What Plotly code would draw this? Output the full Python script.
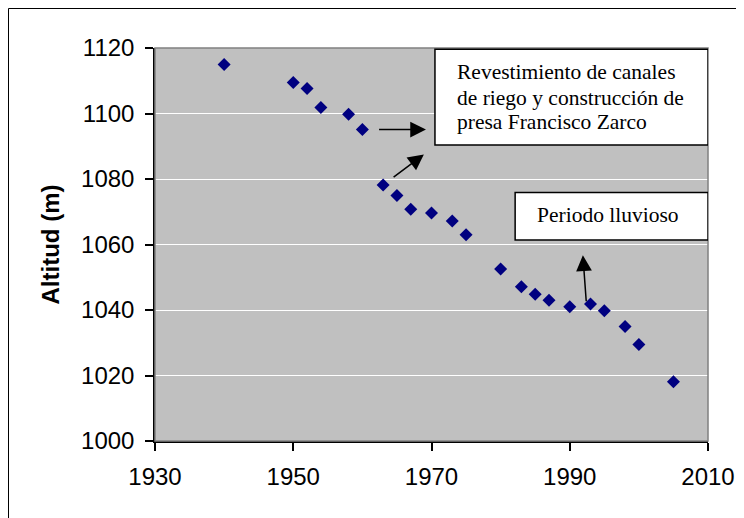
import plotly.graph_objects as go

years = [1940, 1950, 1952, 1954, 1958, 1960, 1963, 1965, 1967, 1970, 1973, 1975,
         1980, 1983, 1985, 1987, 1990, 1993, 1995, 1998, 2000, 2005]
altitud = [1115.0, 1109.5, 1107.6, 1101.8, 1099.8, 1095.1, 1078.2, 1075.0, 1070.8, 1069.6,
           1067.2, 1063.0, 1052.5, 1047.1, 1044.8, 1043.0, 1041.0, 1041.8, 1039.8, 1035.0,
           1029.5, 1018.1]

x_ticks = [1930, 1950, 1970, 1990, 2010]
y_ticks = [1000, 1020, 1040, 1060, 1080, 1100, 1120]

box1_lines = ["Revestimiento de canales", "de riego y construcción de", "presa Francisco Zarco"]
box2_text = "Periodo lluvioso"

fig = go.Figure()
fig.add_trace(go.Scatter(
    x=years, y=altitud, mode="markers",
    marker=dict(symbol="diamond", size=10, color="#000080", line=dict(width=0)),
    showlegend=False, hoverinfo="x+y"))

serif = "Liberation Serif, Times New Roman, serif"
sans = "Liberation Sans, Arial, sans-serif"

L, T, PW, PH = 147, 40, 553, 393
W, H = 744, 518

def px_x(fx):
    return (fx - L) / PW

def px_y(fy):
    return (T + PH - fy) / PH

shapes = [
    # outer chart frame
    dict(type="rect", xref="paper", yref="paper", x0=px_x(0.5), x1=px_x(W + 20),
         y0=px_y(H + 20), y1=px_y(0.5),
         line=dict(color="#000000", width=1), fillcolor="rgba(0,0,0,0)", layer="below"),
    # plot area border
    dict(type="rect", xref="paper", yref="paper", x0=0, x1=1, y0=0, y1=1,
         line=dict(color="#808080", width=1.5), fillcolor="rgba(0,0,0,0)", layer="above"),
    # text boxes
    dict(type="rect", xref="x", yref="y", x0=1970.5, x1=2010, y0=1090.4, y1=1119.6,
         line=dict(color="#000000", width=1.5), fillcolor="#FFFFFF", layer="above"),
    dict(type="rect", xref="x", yref="y", x0=1982.1, x1=2010, y0=1061.4, y1=1075.9,
         line=dict(color="#000000", width=1.5), fillcolor="#FFFFFF", layer="above"),
]

annotations = []
for line, yy in zip(box1_lines, [1112.6, 1104.8, 1097.5]):
    annotations.append(dict(x=1973.4, y=yy, xref="x", yref="y", text=line, showarrow=False,
                            xanchor="left", yanchor="middle",
                            font=dict(family=serif, size=21.5, color="#000000")))
annotations.append(dict(x=1985.0, y=1069.0, xref="x", yref="y", text=box2_text, showarrow=False,
                        xanchor="left", yanchor="middle",
                        font=dict(family=serif, size=21.5, color="#000000")))

arrows = [((1962.2, 1095.1), (1969.2, 1095.1)),
          ((1964.3, 1080.2), (1968.9, 1087.5)),
          ((1992.4, 1042.2), (1991.9, 1056.7))]
for (tx, ty), (hx, hy) in arrows:
    annotations.append(dict(x=hx, y=hy, ax=tx, ay=ty, xref="x", yref="y", axref="x", ayref="y",
                            text="", showarrow=True, arrowhead=2, arrowsize=2.1, arrowwidth=1.5,
                            arrowcolor="#000000", standoff=0, startstandoff=0))

fig.update_layout(
    width=W, height=H,
    margin=dict(l=L, r=W - L - PW, t=T, b=H - T - PH),
    paper_bgcolor="#FFFFFF", plot_bgcolor="#C0C0C0",
    shapes=shapes, annotations=annotations,
    font=dict(family=sans, size=24, color="#000000"),
    xaxis=dict(range=[1930, 2010], tickvals=x_ticks, ticktext=[str(v) for v in x_ticks],
               showgrid=False, zeroline=False, showline=True, linecolor="#000000", linewidth=1.5,
               ticks="outside", ticklen=8, tickcolor="#000000", tickwidth=1.5,
               ticklabelstandoff=5, tickfont=dict(family=sans, size=24)),
    yaxis=dict(range=[1000, 1120], tickvals=y_ticks, ticktext=[str(v) for v in y_ticks],
               showgrid=True, gridcolor="#FFFFFF", gridwidth=1, zeroline=False,
               showline=True, linecolor="#000000", linewidth=1.5,
               ticks="outside", ticklen=8, tickcolor="#000000", tickwidth=1.5,
               ticklabelstandoff=6, tickfont=dict(family=sans, size=24),
               title=dict(text="<b>Altitud (m)</b>", standoff=15,
                          font=dict(family=sans, size=24))),
)

fig.write_html("out.html")
